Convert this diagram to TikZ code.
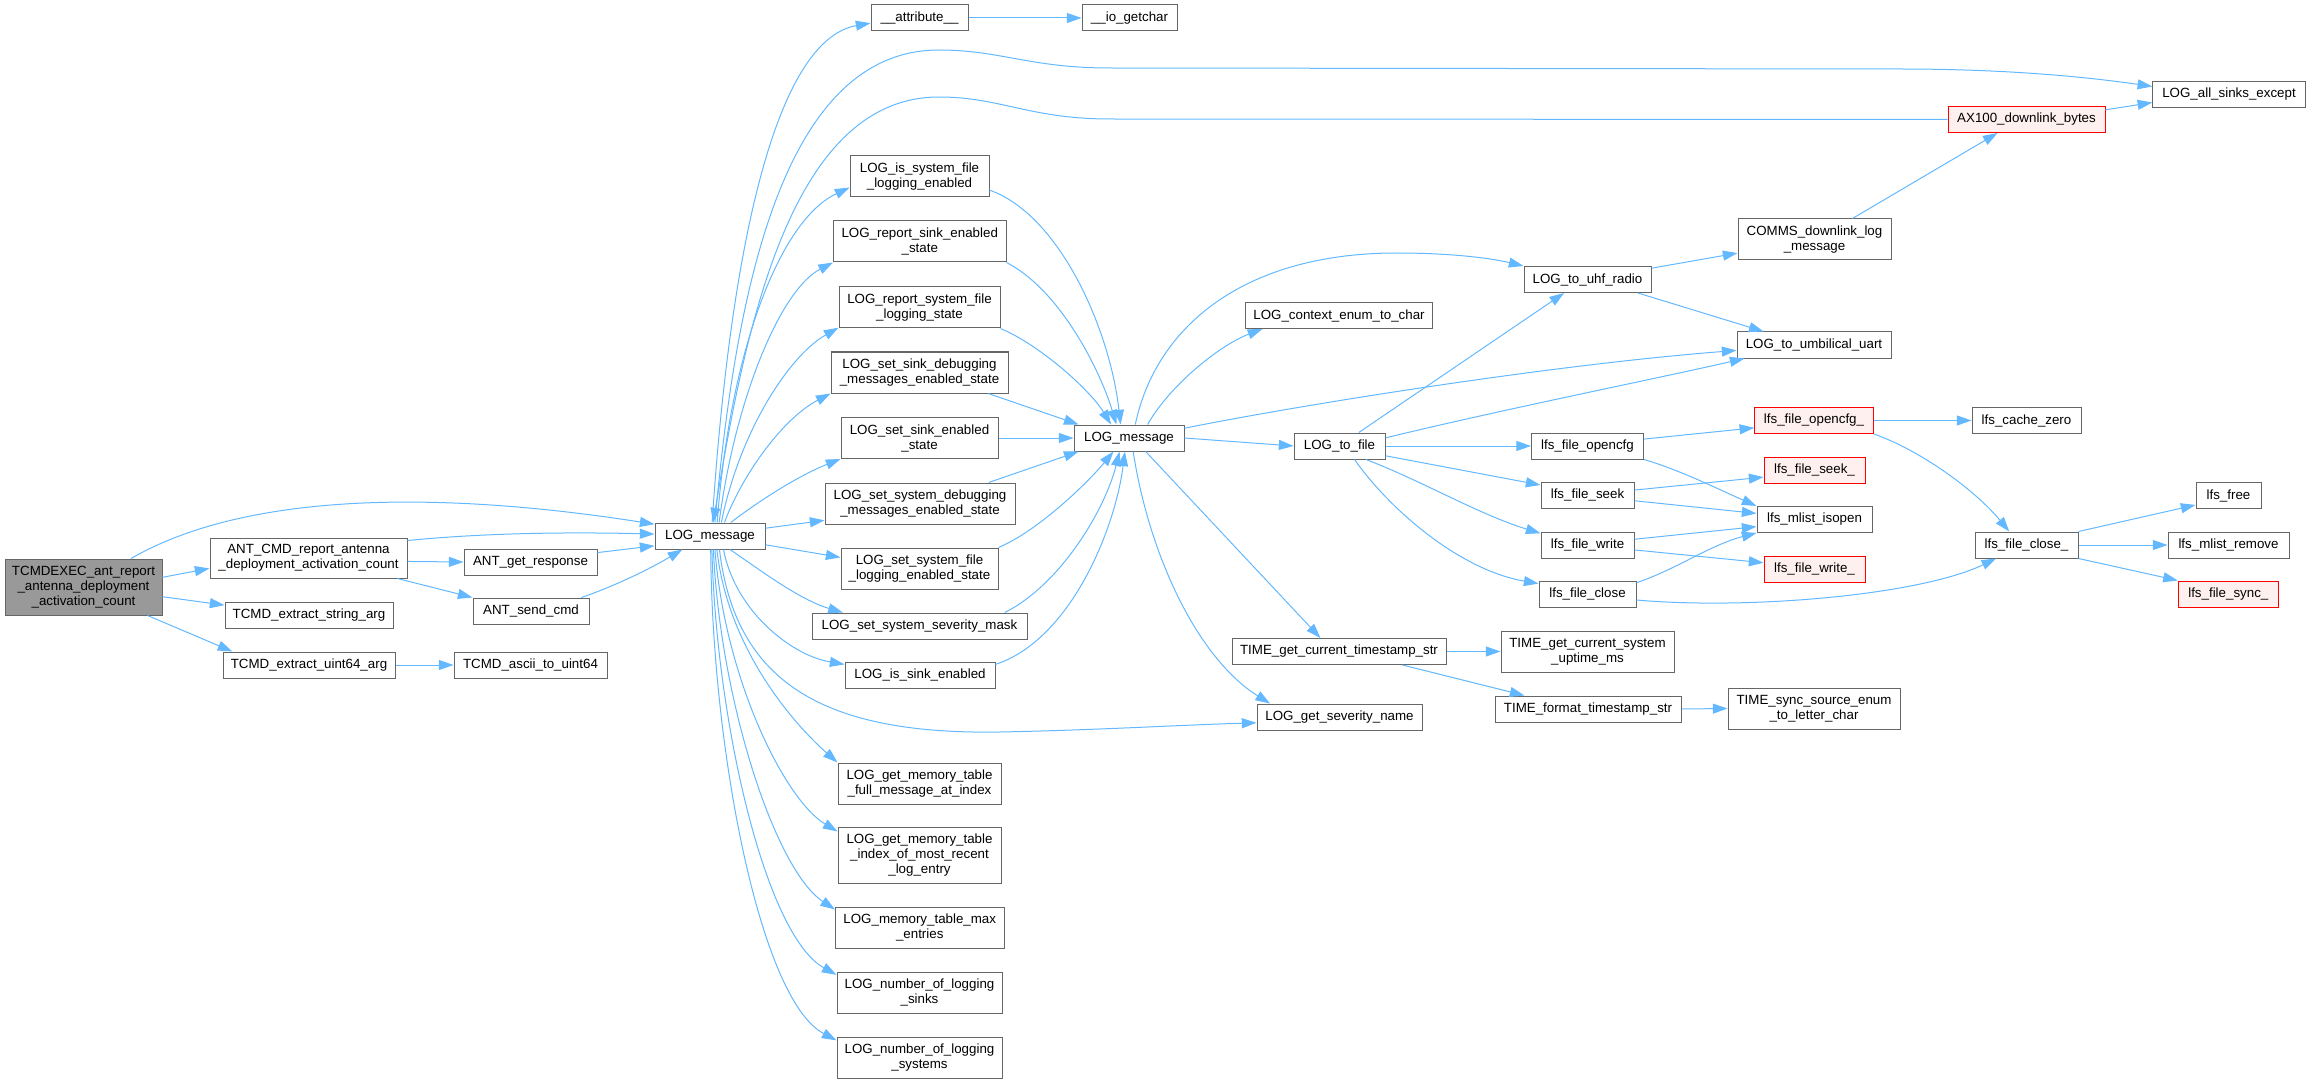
\documentclass[tikz,border=0pt]{standalone}
\usepackage{fontspec}
\setmainfont{Liberation Sans}
\usetikzlibrary{arrows.meta}
\definecolor{edgec}{HTML}{63B8FF}
\definecolor{nodeborder}{HTML}{666666}
\definecolor{rootfill}{HTML}{999999}
\definecolor{redfill}{HTML}{FFF0F0}
\definecolor{redborder}{HTML}{FF0000}
\tikzset{
  box/.style={draw=nodeborder, line width=0.75pt, fill=white, inner sep=0pt, align=center,
    font=\fontsize{10}{11.25}\selectfont, text=black, minimum height=19.5pt},
  W/.style={minimum width=#1*0.75pt},
  H/.style={minimum height=#1*0.75pt},
  redbox/.style={box, draw=redborder, fill=redfill},
  rootbox/.style={box, fill=rootfill},
  edge/.style={draw=edgec, line width=0.75pt, -{Triangle[length=11pt,width=7.5pt]}},
}
\begin{document}
\begin{tikzpicture}[x=0.75pt,y=-0.75pt]
\useasboundingbox (0,0) rectangle (2310,1084);
% ---------- nodes ----------
\node[rootbox, W=157, H=56] (tcmd) at (83.5,587) {TCMDEXEC\_ant\_report\\\_antenna\_deployment\\\_activation\_count};
\node[box, W=197, H=40] (ant) at (308.5,558) {ANT\_CMD\_report\_antenna\\\_deployment\_activation\_count};
\node[box, W=133] (getresp) at (530.5,562) {ANT\_get\_response};
\node[box, W=116] (sendcmd) at (531,611) {ANT\_send\_cmd};
\node[box, W=168] (strarg) at (309,615.5) {TCMD\_extract\_string\_arg};
\node[box, W=172] (u64arg) at (309,665) {TCMD\_extract\_uint64\_arg};
\node[box, W=153] (ascii) at (530.5,665) {TCMD\_ascii\_to\_uint64};
\node[box, W=110] (logL) at (710,536) {LOG\_message};
\node[box, W=97] (attr) at (919.5,18) {\_\_attribute\_\_};
\node[box, W=95] (getchar) at (1129.5,18) {\_\_io\_getchar};
\node[box, W=139, H=41] (issysfile) at (919.5,176.5) {LOG\_is\_system\_file\\\_logging\_enabled};
\node[box, W=172.5, H=41] (repsink) at (919.75,241.5) {LOG\_report\_sink\_enabled\\\_state};
\node[box, W=161, H=41] (repsysfile) at (919.5,307.5) {LOG\_report\_system\_file\\\_logging\_state};
\node[box, W=177, H=41] (setsinkdbg) at (919.5,372.5) {LOG\_set\_sink\_debugging\\\_messages\_enabled\_state};
\node[box, W=157, H=41] (setsinken) at (919.5,438) {LOG\_set\_sink\_enabled\\\_state};
\node[box, W=190, H=41] (setsysdbg) at (920,503.5) {LOG\_set\_system\_debugging\\\_messages\_enabled\_state};
\node[box, W=157, H=41] (setsysfile) at (919.5,568.5) {LOG\_set\_system\_file\\\_logging\_enabled\_state};
\node[box, W=215] (setsevmask) at (919.5,626) {LOG\_set\_system\_severity\_mask};
\node[box, W=150] (issinken) at (920,675) {LOG\_is\_sink\_enabled};
\node[box, W=163, H=41] (memfull) at (919.5,783.5) {LOG\_get\_memory\_table\\\_full\_message\_at\_index};
\node[box, W=163, H=56] (memidx) at (919.5,855) {LOG\_get\_memory\_table\\\_index\_of\_most\_recent\\\_log\_entry};
\node[box, W=168.5, H=41] (memmax) at (919.75,927.5) {LOG\_memory\_table\_max\\\_entries};
\node[box, W=165, H=41] (numsinks) at (919.5,992.5) {LOG\_number\_of\_logging\\\_sinks};
\node[box, W=165, H=41] (numsys) at (919.5,1058) {LOG\_number\_of\_logging\\\_systems};
\node[box, W=110] (logR) at (1129,438) {LOG\_message};
\node[box, W=187.5] (ctxenum) at (1339,315.5) {LOG\_context\_enum\_to\_char};
\node[box, W=91] (tofile) at (1339.5,446) {LOG\_to\_file};
\node[box, W=214] (tsstr) at (1339,651.5) {TIME\_get\_current\_timestamp\_str};
\node[box, W=165] (sevname) at (1339.5,717) {LOG\_get\_severity\_name};
\node[box, W=127] (uhf) at (1587.5,279.5) {LOG\_to\_uhf\_radio};
\node[box, W=112] (opencfg) at (1587.5,446) {lfs\_file\_opencfg};
\node[box, W=93] (nseek) at (1587.5,495) {lfs\_file\_seek};
\node[box, W=93] (nwrite) at (1587.5,545) {lfs\_file\_write};
\node[box, W=97] (nclose) at (1587.5,594) {lfs\_file\_close};
\node[box, W=173, H=41] (uptime) at (1587.5,651.5) {TIME\_get\_current\_system\\\_uptime\_ms};
\node[box, W=186] (fmtts) at (1588,709) {TIME\_format\_timestamp\_str};
\node[box, W=153, H=41] (comms) at (1814.5,239.5) {COMMS\_downlink\_log\\\_message};
\node[box, W=154] (uart) at (1814,345) {LOG\_to\_umbilical\_uart};
\node[redbox, W=118.5] (opencfgu) at (1814,420.5) {lfs\_file\_opencfg\_};
\node[redbox, W=101] (seeku) at (1814.5,470) {lfs\_file\_seek\_};
\node[box, W=115] (isopen) at (1814.5,519.5) {lfs\_mlist\_isopen};
\node[redbox, W=101] (writeu) at (1814.5,569) {lfs\_file\_write\_};
\node[box, W=172, H=41] (syncsrc) at (1814,708.5) {TIME\_sync\_source\_enum\\\_to\_letter\_char};
\node[redbox, W=157] (ax100) at (2026.5,119.5) {AX100\_downlink\_bytes};
\node[box, W=109] (cachezero) at (2026.5,420.5) {lfs\_cache\_zero};
\node[box, W=103] (closeu) at (2026.5,545) {lfs\_file\_close\_};
\node[box, W=152.5] (allsinks) at (2229,94.5) {LOG\_all\_sinks\_except};
\node[box, W=65] (nfree) at (2228.5,495.5) {lfs\_free};
\node[box, W=121] (mremove) at (2228.5,545) {lfs\_mlist\_remove};
\node[redbox, W=100] (syncu) at (2228.3,594) {lfs\_file\_sync\_};
% ---------- edges: left part ----------
\draw[edge] (tcmd.31) .. controls +(120,-69) and +(-205,-32) .. (logL.168);
\draw[edge] (tcmd.7) -- (ant.186);
\draw[edge] (tcmd.-7) -- (strarg.173);
\draw[edge] (tcmd.-24) -- (u64arg.170);
\draw[edge] (ant.10) .. controls +(80,-8) and +(-80,-2) .. (logL.178);
\draw[edge] (ant.-2) -- (getresp.west);
\draw[edge] (ant.-13) -- (sendcmd.north west);
\draw[edge] (getresp.8) -- (logL.190);
\draw[edge] (sendcmd.15) .. controls +(35,-12) and +(-30,18) .. (logL.206);
\draw[edge] (u64arg.east) -- (ascii.west);
% ---------- LOG_message (left) upward ----------
\draw[edge] (logL.81) .. controls (730,250) and (775,40) .. (attr.186);
\draw[edge] (attr.east) -- (getchar.west);
\draw[edge] (logL.70) .. controls (735,300) and (780,50) .. (939,50)
  .. controls (1000,50) and (1030,68) .. (1110,68) -- (1900,69)
  .. controls (2000,69) and (2080,76) .. (allsinks.174);
\draw[edge] (ax100.west) -- (1110,119) .. controls (1030,119) and (1000,97) .. (939,97)
  .. controls (790,97) and (745,330) .. (logL.77);
\draw[edge] (logL.62) .. controls (730,350) and (780,220) .. (issysfile.189);
\draw[edge] (logL.56) .. controls (735,400) and (780,290) .. (repsink.south west);
\draw[edge] (logL.50) .. controls (740,430) and (790,355) .. (repsysfile.194);
\draw[edge] (logL.43) .. controls (740,480) and (780,420) .. (setsinkdbg.south west);
\draw[edge] (logL.33) .. controls (760,500) and (800,475) .. (setsinken.south west);
\draw[edge] (logL.8) -- (setsysdbg.190);
\draw[edge] (logL.-9) -- (setsysfile.172);
% ---------- LOG_message (left) downward ----------
\draw[edge] (logL.-34) .. controls (760,570) and (800,600) .. (setsevmask.170);
\draw[edge] (logL.-45) .. controls (735,610) and (790,655) .. (issinken.172);
\draw[edge] (logL.-55) .. controls (735,680) and (820,735) .. (1000,732)
  .. controls (1100,730) and (1180,725) .. (sevname.184);
\draw[edge] (logL.-63) .. controls (728,650) and (795,725) .. (memfull.north west);
\draw[edge] (logL.-70) .. controls (725,680) and (785,800) .. (memidx.164);
\draw[edge] (logL.-76) .. controls (720,700) and (775,870) .. (memmax.168);
\draw[edge] (logL.-82) .. controls (716,720) and (765,935) .. (numsinks.168);
\draw[edge] (logL.-87) .. controls (712,750) and (760,1000) .. (numsys.168);
% ---------- middle column to LOG_message (right) ----------
\draw[edge] (issysfile.-11) .. controls (1060,215) and (1110,330) .. (logR.122);
\draw[edge] (repsink.south east) .. controls (1060,290) and (1100,370) .. (logR.133);
\draw[edge] (repsysfile.south east) .. controls (1040,345) and (1090,390) .. (logR.143);
\draw[edge] (setsinkdbg.-17) -- (logR.165);
\draw[edge] (setsinken.east) -- (logR.west);
\draw[edge] (setsysdbg.17) -- (logR.195);
\draw[edge] (setsysfile.north east) .. controls (1040,530) and (1090,480) .. (logR.221);
\draw[edge] (setsevmask.9) .. controls (1060,585) and (1105,510) .. (logR.235);
\draw[edge] (issinken.8) .. controls (1070,640) and (1115,530) .. (logR.253);
% ---------- LOG_message (right) outgoing ----------
\draw[edge] (logR.65) .. controls (1155,330) and (1240,253) .. (1397,253)
  .. controls (1450,253) and (1490,258) .. (uhf.north west);
\draw[edge] (logR.36) .. controls (1170,385) and (1220,345) .. (ctxenum.190);
\draw[edge] (logR.10) .. controls (1300,405) and (1550,365) .. (uart.184);
\draw[edge] (logR.east) -- (tofile.west);
\draw[edge] (logR.-39) -- (tsstr.144);
\draw[edge] (logR.-73) .. controls (1150,560) and (1200,660) .. (sevname.169);
% ---------- LOG_to_file ----------
\draw[edge] (tofile.35) -- (uhf.210);
\draw[edge] (tofile.10) .. controls (1500,410) and (1650,380) .. (uart.191);
\draw[edge] (tofile.east) -- (opencfg.west);
\draw[edge] (tofile.-12) -- (nseek.168);
\draw[edge] (tofile.-27) .. controls (1420,480) and (1480,515) .. (nwrite.166);
\draw[edge] (tofile.-42) .. controls (1390,510) and (1460,570) .. (nclose.168);
% ---------- radio / comms ----------
\draw[edge] (uhf.10) -- (comms.190);
\draw[edge] (uhf.-15) -- (uart.165);
\draw[edge] (comms.29) -- (ax100.205);
\draw[edge] (ax100.7) -- (allsinks.186);
% ---------- lfs ----------
\draw[edge] (opencfg.7) -- (opencfgu.187);
\draw[edge] (opencfg.south east) .. controls (1680,470) and (1720,490) .. (isopen.north west);
\draw[edge] (nseek.6) -- (seeku.188);
\draw[edge] (nseek.-7) -- (isopen.174);
\draw[edge] (nwrite.7) -- (isopen.187);
\draw[edge] (nwrite.-6) -- (writeu.173);
\draw[edge] (nclose.13) .. controls (1675,570) and (1710,545) .. (isopen.south west);
\draw[edge] (nclose.-7) .. controls (1750,610) and (1920,595) .. (closeu.204);
\draw[edge] (opencfgu.east) -- (cachezero.west);
\draw[edge] (opencfgu.south east) .. controls (1920,450) and (1975,490) .. (closeu.142);
\draw[edge] (closeu.north east) -- (nfree.196);
\draw[edge] (closeu.east) -- (mremove.west);
\draw[edge] (closeu.south east) -- (syncu.north west);
% ---------- time ----------
\draw[edge] (tsstr.east) -- (uptime.west);
\draw[edge] (tsstr.-12) -- (fmtts.168);
\draw[edge] (fmtts.east) -- (syncsrc.west);
\end{tikzpicture}
\end{document}
